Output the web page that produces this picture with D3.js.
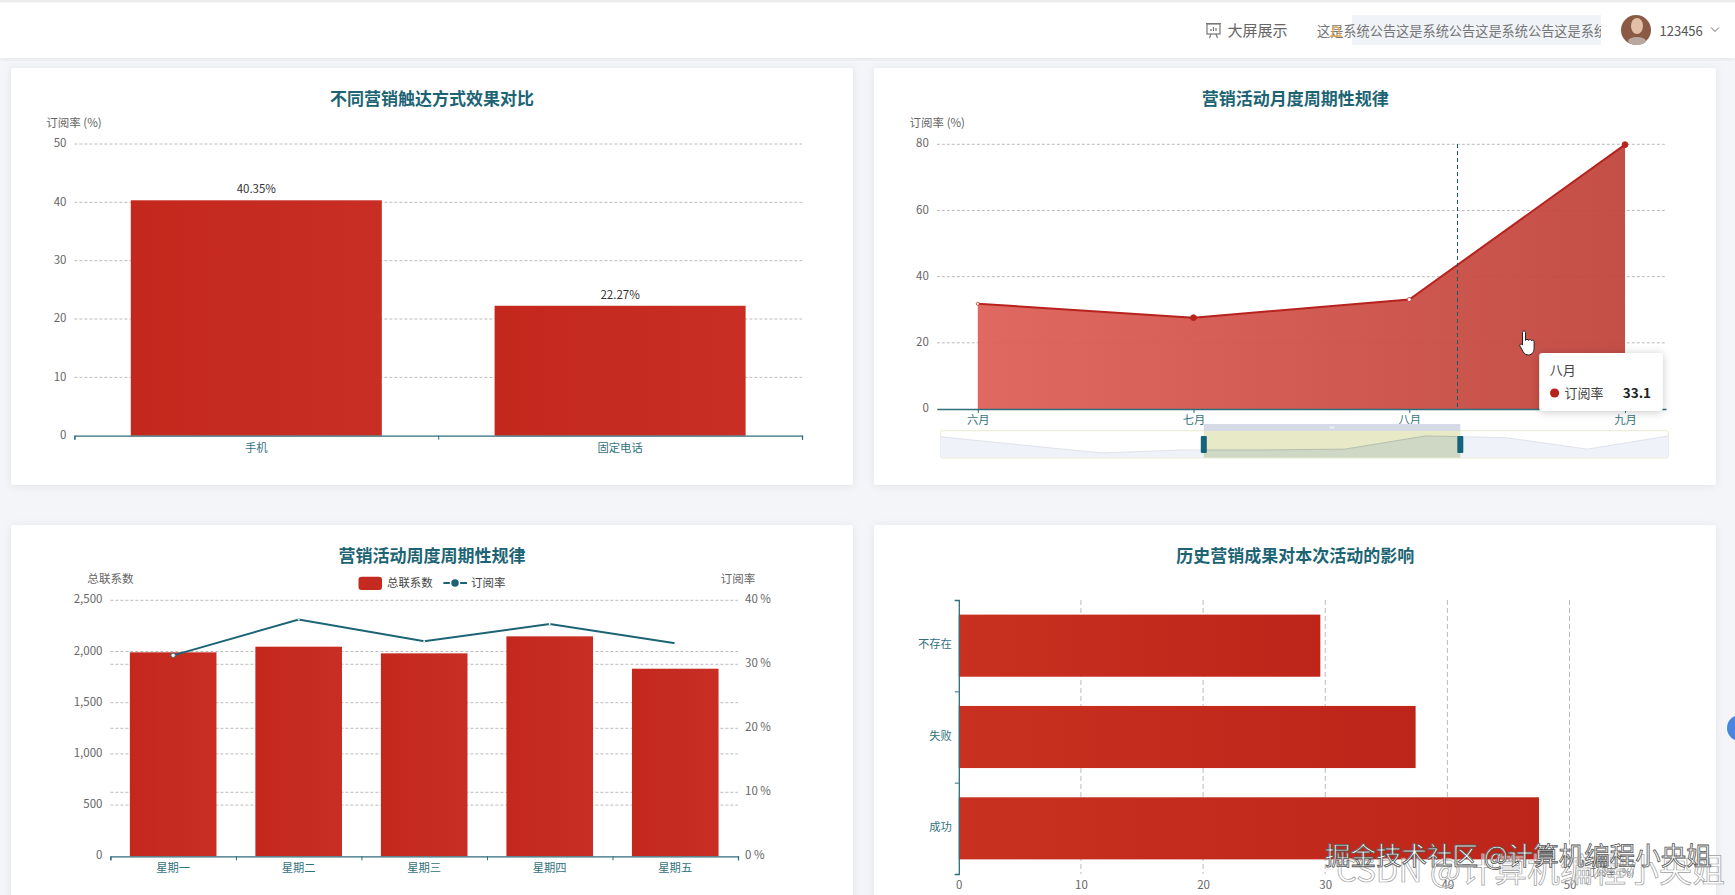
<!DOCTYPE html>
<html lang="zh"><head><meta charset="utf-8"><title>营销看板</title>
<script src="https://cdn.jsdelivr.net/npm/d3@7"></script>
<style>
html,body{margin:0;padding:0;width:1735px;height:895px;overflow:hidden;background:#f3f5f8;font-family:"Noto Sans CJK SC","Noto Sans",sans-serif}
svg{position:absolute;left:0;top:0}
text{font-family:"Noto Sans CJK SC","Noto Sans",sans-serif}
</style></head><body><svg id="c" width="1735" height="895"></svg>
<script>
// ---------- data ----------
const contactCats = ["手机","固定电话"];
const contactRates = [40.35,22.27];
const contactTicks = [0,10,20,30,40,50];

const monthCats = ["六月","七月","八月","九月"];
const monthRates = [31.8,27.6,33.1,79.9];
const monthTicks = [0,20,40,60,80];
const overviewRates = [70,40,11,22,22,25,73,66.5,25,73];

const weekCats = ["星期一","星期二","星期三","星期四","星期五"];
const weekContacts = [1992,2047,1982,2148,1832];
const weekRates = [31.4,37.0,33.6,36.3,33.3];
const contactAxisTicks = [0,500,1000,1500,2000,2500];
const rateAxisTicks = [0,10,20,30,40];

const outcomeCats = ["成功","失败","不存在"];
const outcomeRates = [47.5,37.4,29.6];
const outcomeTicks = [0,10,20,30,40,50];

// ---------- styles ----------
const TEAL="#1c6474", AXIS="#2f6e7a", GRID="#bcbcbc", TICK="#666", CAT="#33727c", RED="#c52a20";
const svg=d3.select("#c"), defs=svg.append("defs");
const sh=defs.append("filter").attr("id","cardShadow").attr("x","-5%").attr("y","-5%").attr("width","110%").attr("height","110%");
sh.append("feDropShadow").attr("dx",0).attr("dy",1).attr("stdDeviation",4).attr("flood-color","#000").attr("flood-opacity",.07);
const sh2=defs.append("filter").attr("id","tipShadow").attr("x","-20%").attr("y","-20%").attr("width","140%").attr("height","140%");
sh2.append("feDropShadow").attr("dx",0).attr("dy",1).attr("stdDeviation",4).attr("flood-color","#000").attr("flood-opacity",.22);
const gradH=(id,a,b)=>{const g=defs.append("linearGradient").attr("id",id);g.append("stop").attr("offset",0).attr("stop-color",a);g.append("stop").attr("offset",1).attr("stop-color",b);};
gradH("barA","#c4281d","#c82e24");
gradH("barB","#c8301f","#bd251a");
gradH("areaG","#de5f58","#c0443b");

// ---------- page chrome ----------
svg.append("rect").attr("width",1735).attr("height",58).attr("y",0).attr("fill","#fff").attr("filter","url(#cardShadow)");
svg.append("rect").attr("width",1735).attr("height",2.5).attr("fill","#ececee");
const cards=[[11,68,842,417],[874,68,842,417],[11,525,842,400],[874,525,842,400]];
svg.selectAll("rect.card").data(cards).join("rect").attr("class","card")
  .attr("x",d=>d[0]).attr("y",d=>d[1]).attr("width",d=>d[2]).attr("height",d=>d[3]).attr("rx",3)
  .attr("fill","#fff").attr("filter","url(#cardShadow)");

const txt=(t,x,y,o={})=>svg.append("text").text(t).attr("x",x).attr("y",y).attr("dy",".35em")
  .attr("text-anchor",o.a||"middle").attr("font-size",o.s||11).attr("font-weight",o.w||400).attr("fill",o.c||TICK);
const title=(t,x,y)=>txt(t,x,y,{s:17,w:700,c:TEAL});

function styleAxis(g,color,size){
  g.selectAll("text").attr("fill",color).attr("font-size",size||11.3);
  g.selectAll("line").attr("stroke",AXIS);
  g.select(".domain").attr("stroke",AXIS);
}
function hGrid(y,ticks,x0,x1){
  svg.append("g").selectAll("line").data(ticks).join("line")
   .attr("x1",x0).attr("x2",x1).attr("y1",d=>y(d)).attr("y2",d=>y(d))
   .attr("stroke",GRID).attr("stroke-dasharray","3,2");
}
function leftAxis(y,ticks,x,fmt){
  const g=svg.append("g").attr("transform",`translate(${x},-1)`)
   .call(d3.axisLeft(y).tickValues(ticks).tickSize(0).tickPadding(8).tickFormat(fmt||d3.format("d")));
  g.select(".domain").remove(); g.selectAll("text").attr("fill",TICK).attr("font-size",11.5);
}
function bandAxisBottom(xb,yPos,x0,x1){
  const n=xb.domain().length;
  const bounds=d3.scaleLinear().domain([0,n]).range([x0,x1]);
  const g=svg.append("g").attr("transform",`translate(0,${yPos})`)
   .call(d3.axisBottom(bounds).ticks(n).tickSize(4).tickFormat(""));
  styleAxis(g,CAT); g.select(".domain").attr("stroke-width",1.3);
  const l=svg.append("g").attr("transform",`translate(0,${yPos})`)
   .call(d3.axisBottom(xb).tickSize(0).tickPadding(8));
  l.select(".domain").remove(); styleAxis(l,CAT);
}

// ---------- header ----------
const ic=svg.append("g").attr("fill","none").attr("stroke","#777").attr("stroke-width",1.2);
ic.append("rect").attr("x",1207).attr("y",24).attr("width",13).attr("height",10);
ic.append("path").attr("d","M1206 23.5h15M1211 34l-1.5 4M1216 34l1.5 4M1211 31v-2M1213.5 31v-4M1216 31v-3");
txt("大屏展示",1227.5,31,{a:"start",s:15,c:"#666"});
svg.append("rect").attr("x",1352).attr("y",15).attr("width",249).attr("height",30).attr("fill","#f0f3f7");
defs.append("clipPath").attr("id","notice").append("rect").attr("x",1317).attr("y",10).attr("width",284).attr("height",40);
svg.append("g").attr("clip-path","url(#notice)").append("text").text("这是系统公告这是系统公告这是系统公告这是系统公告")
  .attr("x",1317).attr("y",31).attr("dy",".35em").attr("font-size",13.2).attr("fill","#777");
svg.append("path").attr("d","M1331 36h10c-1.5-1-2-3-2-6a3 3 0 0 0-6 0c0 3-.5 5-2 6z").attr("fill","none").attr("stroke","#e0a94e").attr("stroke-width",1.3);
const av=svg.append("g");
av.append("circle").attr("cx",1636).attr("cy",30).attr("r",15).attr("fill","#8a5a44");
av.append("ellipse").attr("cx",1637).attr("cy",26).attr("rx",6).attr("ry",8).attr("fill","#e3bfa8");
av.append("ellipse").attr("cx",1637).attr("cy",41).attr("rx",9).attr("ry",4).attr("fill","#b9a8a0");
txt("123456",1659.5,31,{a:"start",s:13,c:"#555"});
svg.append("path").attr("d","M1711 27.5l4 4 4-4").attr("fill","none").attr("stroke","#666");

// ---------- chart 1 : contact method ----------
{
 const x0=74.4,x1=802,y=d3.scaleLinear().domain([0,50]).range([435.7,144]);
 const x=d3.scaleBand().domain(contactCats).range([x0,x1]).paddingInner(.31).paddingOuter(.155);
 title("不同营销触达方式效果对比",432,99);
 txt("订阅率 (%)",74,123,{s:11.5});
 hGrid(y,contactTicks.slice(1),x0,x1);
 svg.append("g").selectAll("rect").data(contactRates).join("rect")
  .attr("x",(d,i)=>x(contactCats[i])).attr("width",x.bandwidth())
  .attr("y",d=>y(d)).attr("height",d=>y(0)-y(d)).attr("fill","url(#barA)");
 svg.append("g").selectAll("text").data(contactRates).join("text")
  .text(d=>d+"%").attr("x",(d,i)=>x(contactCats[i])+x.bandwidth()/2).attr("y",d=>y(d)-11).attr("dy",".35em")
  .attr("text-anchor","middle").attr("font-size",11.5).attr("fill","#333");
 leftAxis(y,contactTicks,x0);
 bandAxisBottom(x,y(0),x0,x1);
}

// ---------- chart 2 : month ----------
{
 const x0=936.8,x1=1666,y=d3.scaleLinear().domain([0,80]).range([409,144.3]);
 const x=d3.scalePoint().domain(monthCats).range([x0,x1]).padding(.19);
 title("营销活动月度周期性规律",1295.3,99);
 txt("订阅率 (%)",937.3,123,{s:11.5});
 hGrid(y,monthTicks.slice(1),x0,x1);
 const pts=monthRates.map((v,i)=>({c:monthCats[i],v}));
 svg.append("path").datum(pts).attr("fill","url(#areaG)").attr("fill-opacity",.94)
  .attr("d",d3.area().x(d=>x(d.c)).y0(y(0)).y1(d=>y(d.v)));
 svg.append("path").datum(pts).attr("fill","none").attr("stroke","#b8221c").attr("stroke-width",2)
  .attr("d",d3.line().x(d=>x(d.c)).y(d=>y(d.v)));
 const mk=[{f:"#fff",r:1.5},{f:"#b8221c",r:3},{f:"#fff",r:2},{f:"#b8221c",r:3}];
 svg.append("g").selectAll("circle").data(pts).join("circle")
  .attr("cx",d=>x(d.c)).attr("cy",d=>y(d.v)).attr("r",(d,i)=>mk[i].r).attr("fill",(d,i)=>mk[i].f)
  .attr("stroke","#b8221c").attr("stroke-width",.7);
 leftAxis(y,monthTicks,x0);
 const g=svg.append("g").attr("transform",`translate(0,${y(0)})`)
  .call(d3.axisBottom(x).tickSize(4).tickSizeOuter(0).tickPadding(3));
 styleAxis(g,CAT); g.select(".domain").attr("stroke-width",1.3);
 // crosshair
 svg.append("line").attr("x1",1457.5).attr("x2",1457.5).attr("y1",144).attr("y2",409)
  .attr("stroke","#1c5a68").attr("stroke-dasharray","4,3");
 // data zoom
 const zl=940.6,zr=1668.3,sl=1203.8,sr=1460.3;
 const mx=d3.scaleLinear().domain([0,overviewRates.length-1]).range([zl,zr]);
 const my=d3.scaleLinear().domain([0,80]).range([456,434]);
 const mArea=d3.area().x((d,i)=>mx(i)).y0(457.5).y1(d=>my(d));
 svg.append("rect").attr("x",zl).attr("y",430.7).attr("width",zr-zl).attr("height",27.3).attr("rx",2)
  .attr("fill","#fff").attr("stroke","#e8ebcf");
 svg.append("path").datum(overviewRates).attr("fill","#eff2f8").attr("d",mArea);
 svg.append("path").datum(overviewRates).attr("fill","none").attr("stroke","#dfe3ea")
  .attr("d",d3.line().x((d,i)=>mx(i)).y(d=>my(d)));
 svg.append("rect").attr("x",sl).attr("y",424).attr("width",sr-sl).attr("height",7).attr("fill","#d6d9e6");
 svg.append("rect").attr("x",(sl+sr)/2-2.5).attr("y",426.5).attr("width",5).attr("height",2).attr("fill","#eef0f6");
 svg.append("rect").attr("x",sl).attr("y",431).attr("width",sr-sl).attr("height",27).attr("fill","#e7e9c7");
 defs.append("clipPath").attr("id","sel").append("rect").attr("x",sl).attr("y",431).attr("width",sr-sl).attr("height",27);
 const sg=svg.append("g").attr("clip-path","url(#sel)");
 sg.append("path").datum(overviewRates).attr("fill","#cfd7c5").attr("d",mArea);
 sg.append("path").datum(overviewRates).attr("fill","none").attr("stroke","#b4bfb0")
  .attr("d",d3.line().x((d,i)=>mx(i)).y(d=>my(d)));
 svg.append("g").selectAll("rect").data([sl,sr]).join("rect")
  .attr("x",d=>d-3).attr("y",436).attr("width",6).attr("height",17).attr("rx",1).attr("fill","#14647c");
}

// ---------- chart 3 : week ----------
{
 const x0=110.4,x1=738,yL=d3.scaleLinear().domain([0,2500]).range([856.3,600.3]);
 const yR=d3.scaleLinear().domain([0,40]).range([856.3,600.3]);
 const x=d3.scaleBand().domain(weekCats).range([x0,x1]).paddingInner(.31).paddingOuter(.155);
 title("营销活动周度周期性规律",432,555.7);
 txt("总联系数",110.5,579,{s:11.6});
 txt("订阅率",738,579,{s:11.6});
 svg.append("rect").attr("x",358.5).attr("y",576.7).attr("width",23.5).attr("height",13.3).attr("rx",3).attr("fill",RED);
 txt("总联系数",387,582.7,{a:"start",s:11.4,c:"#444"});
 svg.append("line").attr("x1",443.4).attr("x2",467).attr("y1",583).attr("y2",583).attr("stroke",TEAL).attr("stroke-width",2);
 svg.append("circle").attr("cx",455).attr("cy",583).attr("r",4.5).attr("fill",TEAL).attr("stroke","#fff").attr("stroke-width",1.5);
 txt("订阅率",471,582.7,{a:"start",s:11.5,c:"#444"});
 hGrid(yL,contactAxisTicks.slice(1),x0,x1);
 hGrid(yR,rateAxisTicks.slice(1,4),x0,x1);
 svg.append("g").selectAll("rect").data(weekContacts).join("rect")
  .attr("x",(d,i)=>x(weekCats[i])).attr("width",x.bandwidth())
  .attr("y",d=>yL(d)).attr("height",d=>yL(0)-yL(d)).attr("fill","url(#barA)");
 const pts=weekRates.map((v,i)=>({c:weekCats[i],v}));
 const cx=c=>x(c)+x.bandwidth()/2;
 svg.append("path").datum(pts).attr("fill","none").attr("stroke",TEAL).attr("stroke-width",2)
  .attr("d",d3.line().x(d=>cx(d.c)).y(d=>yR(d.v)));
 svg.append("g").selectAll("circle").data(pts).join("circle")
  .attr("cx",d=>cx(d.c)).attr("cy",d=>yR(d.v)).attr("r",(d,i)=>i?1:2.2).attr("fill","#fff")
  .attr("stroke",(d,i)=>i?"none":TEAL).attr("stroke-width",.8);
 leftAxis(yL,contactAxisTicks,x0,d3.format(","));
 const r=svg.append("g").attr("transform",`translate(${x1},-1)`)
  .call(d3.axisRight(yR).tickValues(rateAxisTicks).tickSize(0).tickPadding(7).tickFormat(d=>d+" %"));
 r.select(".domain").remove(); r.selectAll("text").attr("fill",TICK).attr("font-size",11.5);
 bandAxisBottom(x,yL(0),x0,x1);
}

// ---------- chart 4 : history ----------
{
 const y0=874,y1=600,x=d3.scaleLinear().domain([0,50]).range([958.8,1569.5]);
 const y=d3.scaleBand().domain(outcomeCats).range([y0,y1]).paddingInner(.32).paddingOuter(.16);
 title("历史营销成果对本次活动的影响",1295.3,555.7);
 svg.append("g").selectAll("line").data(outcomeTicks.slice(1)).join("line")
  .attr("x1",d=>x(d)).attr("x2",d=>x(d)).attr("y1",y1).attr("y2",y0)
  .attr("stroke",GRID).attr("stroke-dasharray","5,3");
 svg.append("g").selectAll("rect").data(outcomeRates).join("rect")
  .attr("y",(d,i)=>y(outcomeCats[i])).attr("height",y.bandwidth())
  .attr("x",x(0)).attr("width",d=>x(d)-x(0)).attr("fill","url(#barB)");
 const bounds=d3.scaleLinear().domain([0,outcomeCats.length]).range([y0,y1]);
 const g=svg.append("g").attr("transform",`translate(${x(0)},0)`)
  .call(d3.axisLeft(bounds).ticks(outcomeCats.length).tickSize(4).tickFormat(""));
 styleAxis(g,CAT); g.select(".domain").attr("stroke-width",1.3);
 const l=svg.append("g").attr("transform",`translate(${x(0)},-1)`)
  .call(d3.axisLeft(y).tickSize(0).tickPadding(7));
 l.select(".domain").remove(); styleAxis(l,CAT);
 const b=svg.append("g").attr("transform",`translate(0,${y0})`)
  .call(d3.axisBottom(x).tickValues(outcomeTicks).tickSize(0).tickPadding(7).tickFormat(d3.format("d")));
 b.select(".domain").remove(); b.selectAll("text").attr("fill",TICK).attr("font-size",11.5);
 txt("订阅率 (%)",1610.3,872,{s:10});
}

// ---------- tooltip + cursor ----------
const tip=svg.append("g");
tip.append("rect").attr("x",1539.2).attr("y",353).attr("width",123.6).attr("height",58).attr("rx",3).attr("fill","#fff").attr("filter","url(#tipShadow)");
txt("八月",1549.8,370.7,{a:"start",s:13,c:"#444"});
tip.append("circle").attr("cx",1554.6).attr("cy",393).attr("r",4.6).attr("fill","#b8221c");
txt("订阅率",1564.5,393,{a:"start",s:13,c:"#444"});
txt(monthRates[2],1651,393,{a:"end",s:13.5,w:700,c:"#222"});
svg.append("path").attr("transform","translate(1519.5,331)")
 .attr("d","M3 1.5c0-2 3-2 3 0v8c0-1.5 3-1.5 3 0 0-1.3 3-1.3 3 .3 0-1 2.6-1 2.6.6v6.6c0 3-1.6 7-5.6 7s-5-2.5-6.5-5.5L.4 15c-.8-1.8 1.2-2.6 2.6-1z")
 .attr("fill","#fff").attr("stroke","#222").attr("stroke-width",1);

// ---------- side dot + watermarks ----------
svg.append("circle").attr("cx",1740).attr("cy",728).attr("r",13).attr("fill","#4a86e0");
svg.append("text").text("CSDN @计算机编程小央姐").attr("x",1336).attr("y",870).attr("dy",".35em")
 .attr("font-size",33).attr("fill","rgba(255,255,255,.5)").attr("stroke","#a0a0a0").attr("stroke-width",.7);
svg.append("text").text("掘金技术社区 @计算机编程小央姐").attr("x",1325).attr("y",856).attr("dy",".35em")
 .attr("font-size",25.5).attr("fill","#fff").attr("stroke","#555").attr("stroke-width",.8);
</script></body></html>
